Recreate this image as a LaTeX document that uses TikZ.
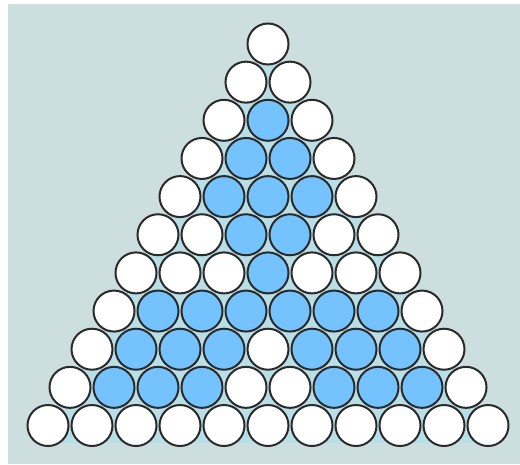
\documentclass[tikz,border=0pt]{standalone}
\definecolor{panel}{HTML}{CDDEDF}
\definecolor{gapblue}{HTML}{B9DEE6}
\definecolor{ballblue}{HTML}{74C3FE}
\definecolor{rim}{HTML}{2A2A2A}
\tikzset{
  ball/.style={circle, draw=rim, line width=1.5pt, minimum size=30.75pt, inner sep=0pt, fill=white},
  blueball/.style={ball, fill=ballblue}
}
\begin{document}
\begin{tikzpicture}[x=0.75pt,y=-0.75pt]
\useasboundingbox (0,0) rectangle (520,464);
\fill[white] (0,0) rectangle (520,464);
\fill[panel] (8,4) rectangle (520,464);
\fill[gapblue] (40,443) -- (496,443) -- (268,48) -- cycle;
% rows: list of blue positions per row
\foreach \r/\blues in {1/{},2/{},3/{2},4/{2,3},5/{2,3,4},6/{3,4},7/{4},8/{2,3,4,5,6,7},9/{2,3,4,6,7,8},10/{2,3,4,7,8,9},11/{}}{
  \foreach \k in {1,...,\r}{
    \pgfmathsetmacro{\cx}{268-22*(\r-1)+44*(\k-1)}
    \pgfmathsetmacro{\cy}{44+38.15*(\r-1)}
    \def\sty{ball}
    \foreach \b in \blues {\ifnum\b=\k\relax\xdef\sty{blueball}\fi}
    \node[\sty] (c\r-\k) at (\cx,\cy) {};
    \gdef\sty{ball}
  }
}
\end{tikzpicture}
\end{document}
